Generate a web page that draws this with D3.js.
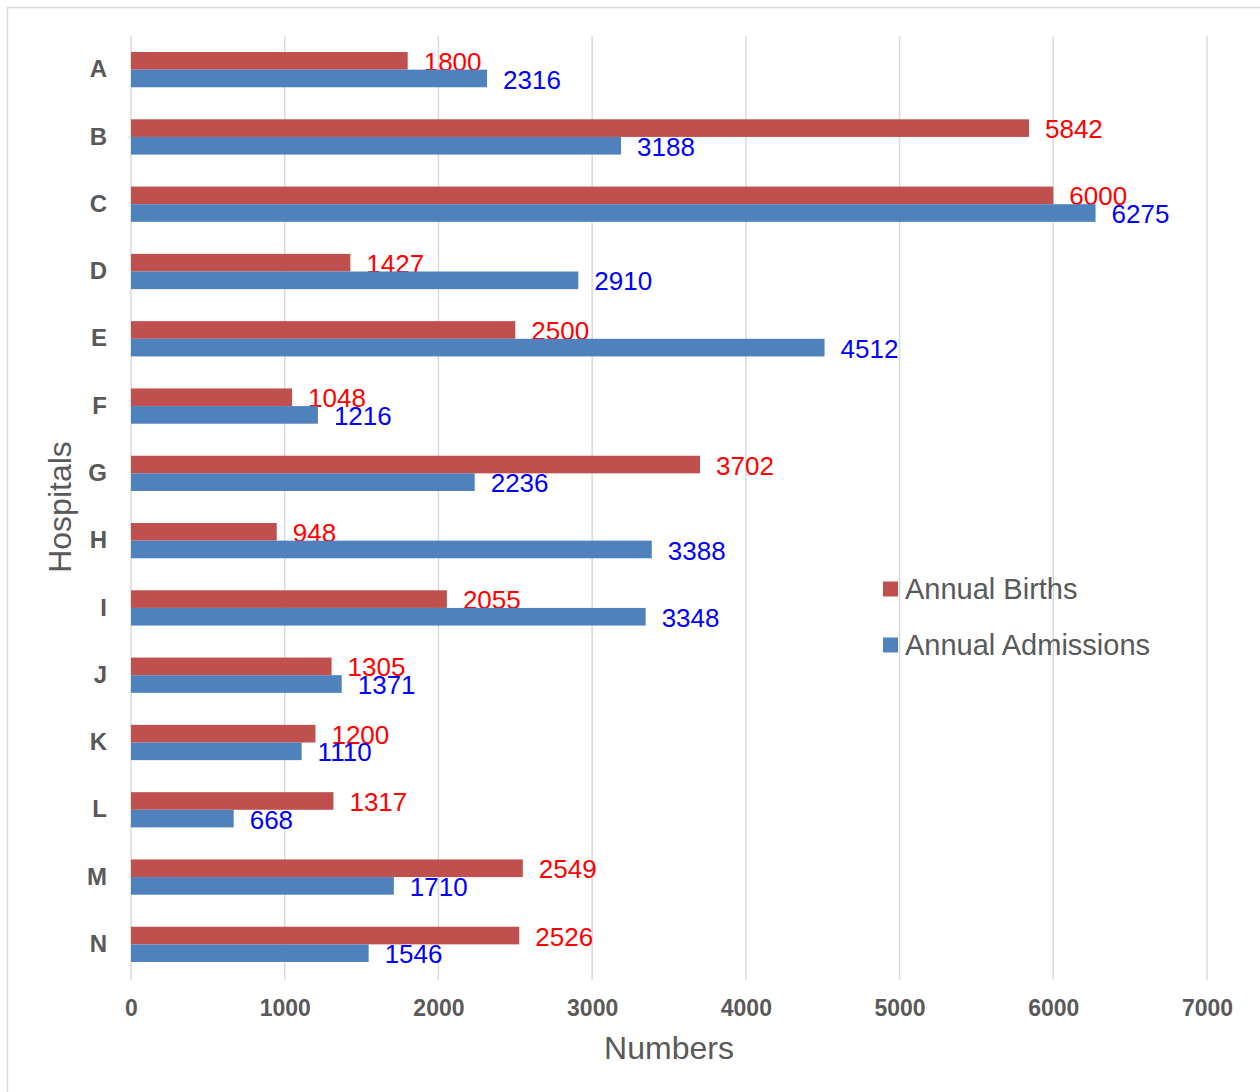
<!DOCTYPE html>
<html><head><meta charset="utf-8">
<script src="https://d3js.org/d3.v7.min.js"></script>
<style>body{margin:0;background:#fff}svg{display:block;font-family:"Liberation Sans",Arial,sans-serif}</style>
</head><body>
<script>
const categories = ["A","B","C","D","E","F","G","H","I","J","K","L","M","N"];
const births = [1800,5842,6000,1427,2500,1048,3702,948,2055,1305,1200,1317,2549,2526];
const admissions = [2316,3188,6275,2910,4512,1216,2236,3388,3348,1371,1110,668,1710,1546];
const xTicks = [0,1000,2000,3000,4000,5000,6000,7000];
const seriesNames = ["Annual Births","Annual Admissions"];
const barColors = ["#c0504d","#4f81bd"];
const labelColors = ["#ff0000","#0000ff"];

const W=1260,H=1092;
const svg=d3.select("body").append("svg").attr("width",W).attr("height",H);
svg.append("rect").attr("x",7.5).attr("y",7.5).attr("width",1300).attr("height",1200)
  .attr("fill","none").attr("stroke","#d9d9d9").attr("stroke-width",1.5);

const x=d3.scaleLinear().domain([0,7000]).range([131,1207]);
const y=d3.scaleBand().domain(categories).range([36,978]);
const step=y.step(), bh=step*0.262;

// gridlines
svg.append("g").selectAll("line").data(xTicks).join("line")
  .attr("x1",d=>x(d)).attr("x2",d=>x(d)).attr("y1",36).attr("y2",980)
  .attr("stroke","#d9d9d9").attr("stroke-width",1.5);

// x axis labels
const xa=d3.axisBottom(x).tickValues(xTicks).tickSize(0).tickPadding(0).tickFormat(d3.format("d"));
const gx=svg.append("g").attr("transform","translate(0,1008)").call(xa);
gx.select(".domain").remove();
gx.selectAll("text").attr("dy","0.35em").attr("font-size",23).attr("font-weight","bold")
  .attr("fill","#595959").attr("font-family","Liberation Sans, Arial, sans-serif");

// y axis labels
const ya=d3.axisLeft(y).tickSize(0).tickPadding(0);
const gy=svg.append("g").attr("transform","translate(107,0)").call(ya);
gy.select(".domain").remove();
gy.selectAll("text").attr("font-size",24).attr("font-weight","bold")
  .attr("fill","#595959").attr("font-family","Liberation Sans, Arial, sans-serif");

const series=[births,admissions];
series.forEach((vals,si)=>{
  const g=svg.append("g");
  g.selectAll("rect").data(vals).join("rect")
    .attr("x",x(0)).attr("y",(d,i)=>y(categories[i])+step/2-bh+si*bh)
    .attr("width",d=>x(d)-x(0)).attr("height",bh).attr("fill",barColors[si]);
  g.selectAll("text").data(vals).join("text")
    .attr("x",d=>x(d)+16).attr("y",(d,i)=>y(categories[i])+step/2-bh/2+si*bh+1)
    .attr("dy","0.35em").attr("font-size",26).attr("fill",labelColors[si]).text(d=>d);
});

// axis titles
svg.append("text").attr("x",669).attr("y",1048).attr("dy","0.35em").attr("text-anchor","middle")
  .attr("font-size",32).attr("fill","#595959").text("Numbers");
svg.append("text").attr("transform","translate(60,507) rotate(-90)").attr("dy","0.35em")
  .attr("text-anchor","middle").attr("font-size",32).attr("fill","#595959").text("Hospitals");

// legend
const lg=svg.append("g");
seriesNames.forEach((n,i)=>{
  const cy=589+i*56;
  lg.append("rect").attr("x",883).attr("y",cy-7.5).attr("width",15).attr("height",15).attr("fill",barColors[i]);
  lg.append("text").attr("x",905).attr("y",cy).attr("dy","0.35em").attr("font-size",29)
    .attr("fill","#595959").text(n);
});
</script>
</body></html>
